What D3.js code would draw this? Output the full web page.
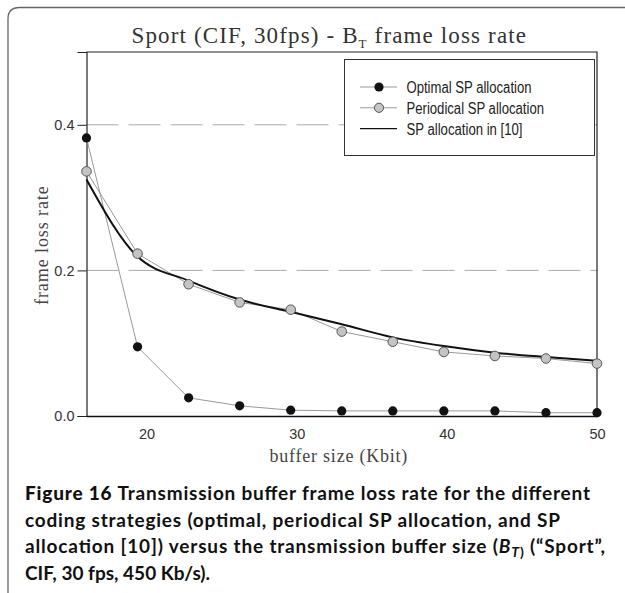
<!DOCTYPE html>
<html>
<head>
<meta charset="utf-8">
<script src="https://cdn.jsdelivr.net/npm/d3@7"></script>
<style>
  body { margin: 0; background: #fff; }
  svg { display: block; }
</style>
</head>
<body>
<div id="chart"></div>
<script>
// buffer sizes (Kbit)
var bufferSize = [16, 19.4, 22.8, 26.2, 29.6, 33, 36.4, 39.8, 43.2, 46.6, 50];
var optimal    = [0.382, 0.095, 0.025, 0.014, 0.008, 0.007, 0.007, 0.007, 0.007, 0.0045, 0.0045];
var periodical = [0.336, 0.223, 0.181, 0.156, 0.146, 0.116, 0.102, 0.088, 0.0825, 0.079, 0.072];
var spRef10    = [0.325, 0.219, 0.186, 0.160, 0.143, 0.126, 0.108, 0.096, 0.087, 0.081, 0.076];
var yTicks = [0.0, 0.2, 0.4];
var xTicks = [20, 30, 40, 50];
var legendLabels = ["Optimal SP allocation", "Periodical SP allocation", "SP allocation in [10]"];
var captionLines = [
  "Transmission buffer frame loss rate for the different",
  "coding strategies (optimal, periodical SP allocation, and SP",
  "allocation [10]) versus the transmission buffer size (",
  "CIF, 30 fps, 450 Kb/s)."
];

var w = 625, h = 593;
var margin = { left: 86.5, right: 28, top: 52, bottom: 177 };

var svg = d3.select("#chart").append("svg")
            .attr("width", w)
            .attr("height", h);

// outer frame with rounded corner
svg.append("path")
   .attr("d", "M8," + h + " L8,19 Q8,7.5 19.5,7.5 L" + (w + 5) + ",7.5")
   .attr("fill", "none")
   .attr("stroke", "#666")
   .attr("stroke-width", 1.3);

var x = d3.scaleLinear().domain([16, 50]).range([margin.left, w - margin.right]);
var y = d3.scaleLinear().domain([0, 0.5]).range([h - margin.bottom, margin.top]);

var serif = "'Liberation Serif', 'DejaVu Serif', serif";
var sans = "'Liberation Sans', Arial, sans-serif";

// dashed grid
svg.append("g").selectAll("line")
   .data([0.2, 0.4])
   .enter()
   .append("line")
   .attr("x1", x(16)).attr("x2", x(50))
   .attr("y1", d => y(d)).attr("y2", d => y(d))
   .style("stroke", "#aaa")
   .style("stroke-width", 1)
   .style("stroke-dasharray", "32,10");

// plot box (top and right)
svg.append("path")
   .attr("d", "M" + x(16) + "," + y(0.5) + " L" + x(50) + "," + y(0.5) + " L" + x(50) + "," + y(0))
   .attr("fill", "none")
   .attr("stroke", "#222")
   .attr("stroke-width", 1.2);

// y axis
var yAxis = d3.axisLeft(y).tickValues(yTicks).tickSize(9).tickFormat(d3.format(".1f"));
var gy = svg.append("g")
            .attr("transform", "translate(" + x(16) + ",0)")
            .call(yAxis);
gy.select(".domain").attr("stroke", "#222").attr("stroke-width", 1.2);
gy.selectAll(".tick line").attr("stroke", "#222");
gy.selectAll("text")
  .attr("x", -12)
  .style("font-family", sans)
  .style("font-size", "14.5px")
  .style("fill", "#333");

// x axis (no tick marks)
var xAxis = d3.axisBottom(x).tickValues(xTicks).tickSize(0).tickPadding(13);
var gx = svg.append("g")
            .attr("transform", "translate(0," + y(0) + ")")
            .call(xAxis);
gx.select(".domain").attr("stroke", "#111").attr("stroke-width", 1.5);
gx.selectAll("text")
  .style("font-family", sans)
  .style("font-size", "14.5px")
  .style("fill", "#333");

// series lines
var line = d3.line().x((d, i) => x(bufferSize[i])).y(d => y(d));
var smooth = d3.line().x((d, i) => x(bufferSize[i])).y(d => y(d)).curve(d3.curveMonotoneX);

svg.append("path").datum(optimal)
   .attr("d", line).attr("fill", "none")
   .style("stroke", "#999").style("stroke-width", 1);

svg.append("path").datum(periodical)
   .attr("d", line).attr("fill", "none")
   .style("stroke", "#999").style("stroke-width", 1);

svg.append("path").datum(spRef10)
   .attr("d", smooth).attr("fill", "none")
   .style("stroke", "#111").style("stroke-width", 2);

svg.append("g").selectAll("circle")
   .data(periodical)
   .enter()
   .append("circle")
   .attr("cx", (d, i) => x(bufferSize[i]))
   .attr("cy", d => y(d))
   .attr("r", 4.8)
   .style("fill", "#c4c4c4")
   .style("stroke", "#555")
   .style("stroke-width", 1);

svg.append("g").selectAll("circle")
   .data(optimal)
   .enter()
   .append("circle")
   .attr("cx", (d, i) => x(bufferSize[i]))
   .attr("cy", d => y(d))
   .attr("r", 4.6)
   .style("fill", "#111");

// legend
var legendWidths = [125, 137.5, 116];
var legend = svg.append("g");
legend.append("rect")
      .attr("x", 344.5).attr("y", 59.5)
      .attr("width", 250).attr("height", 96)
      .style("fill", "#fff")
      .style("stroke", "#333")
      .style("stroke-width", 1);

var rows = legend.selectAll("g.row")
                 .data(legendLabels)
                 .enter()
                 .append("g")
                 .attr("class", "row")
                 .attr("transform", (d, i) => "translate(0," + (87 + i * 20.8) + ")");

rows.append("line")
    .attr("x1", 360).attr("x2", 397)
    .style("stroke", (d, i) => i === 2 ? "#111" : "#999")
    .style("stroke-width", (d, i) => i === 2 ? 1.4 : 1);

rows.filter((d, i) => i === 0).append("circle")
    .attr("cx", 379).attr("r", 4.6).style("fill", "#111");
rows.filter((d, i) => i === 1).append("circle")
    .attr("cx", 379).attr("r", 4.6)
    .style("fill", "#c4c4c4").style("stroke", "#555").style("stroke-width", 1);

rows.append("text")
    .attr("x", 406.5)
    .attr("y", 6)
    .attr("textLength", (d, i) => legendWidths[i])
    .attr("lengthAdjust", "spacingAndGlyphs")
    .text(d => d)
    .style("font-family", sans)
    .style("font-size", "16px")
    .style("fill", "#222");

// title
var title = svg.append("text")
               .attr("x", 131.5).attr("y", 43)
               .attr("textLength", 396)
               .style("font-family", serif)
               .style("font-size", "23px")
               .style("letter-spacing", "1.5px")
               .style("fill", "#333");
title.append("tspan").text("Sport (CIF, 30fps) - B");
title.append("tspan").attr("dy", 5).style("font-size", "13px").text("T");
title.append("tspan").attr("dy", -5).text(" frame loss rate");

// axis titles
svg.append("text")
   .attr("transform", "translate(48,245) rotate(-90)")
   .attr("text-anchor", "middle")
   .attr("textLength", 120)
   .text("frame loss rate")
   .style("font-family", serif)
   .style("font-size", "18px")
   .style("letter-spacing", "1.2px")
   .style("fill", "#444");

svg.append("text")
   .attr("x", 269.5).attr("y", 462)
   .attr("textLength", 139)
   .text("buffer size (Kbit)")
   .style("font-family", serif)
   .style("font-size", "18px")
   .style("letter-spacing", "1.2px")
   .style("fill", "#444");

// caption
var capFont = "Lato, 'Open Sans', 'Noto Sans', sans-serif";
var capWidths = [565, 535, 580, null];
var cap = svg.append("g")
             .style("font-family", capFont)
             .style("font-size", "19px")
             .style("font-weight", "bold")
             .style("fill", "#111");

captionLines.forEach(function(t, i) {
  var tx = cap.append("text")
              .attr("x", 25)
              .attr("y", 500 + i * 26.5);
  if (capWidths[i]) tx.attr("textLength", capWidths[i]);
  if (i === 0) {
    tx.append("tspan").style("font-weight", 900).text("Figure 16 ");
    tx.append("tspan").text(t);
  } else if (i === 2) {
    tx.append("tspan").text(t);
    tx.append("tspan").style("font-style", "italic").text("B");
    tx.append("tspan").attr("dy", 4).style("font-size", "14px").style("font-style", "italic").text("T");
    tx.append("tspan").attr("dy", 0).style("font-size", "14px").text(")");
    tx.append("tspan").attr("dy", -4).text(" (\u201cSport\u201d,");
  } else {
    tx.text(t);
  }
});
</script>
</body>
</html>
